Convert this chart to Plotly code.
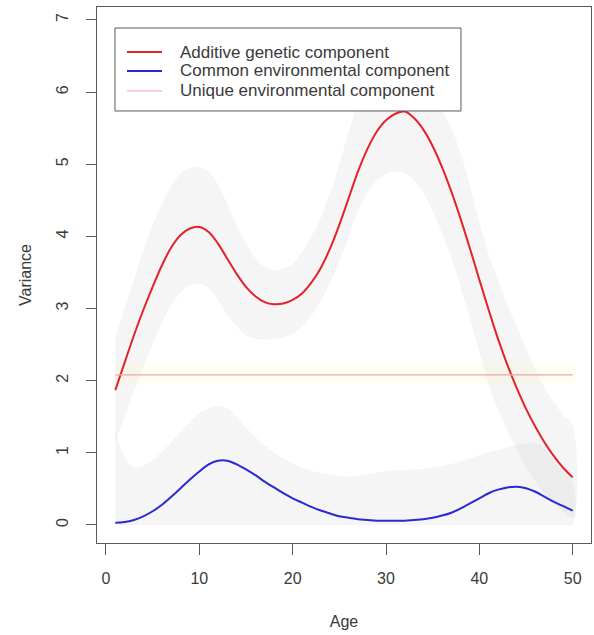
import plotly.graph_objects as go

# Age grid (years)
age = list(range(1, 51))

# Additive genetic variance and its confidence limits
additive = [1.87, 2.25, 2.63, 2.98, 3.30, 3.60, 3.85, 4.02, 4.11, 4.13,
            4.06, 3.90, 3.69, 3.48, 3.30, 3.17, 3.09, 3.06, 3.07, 3.12,
            3.21, 3.36, 3.56, 3.83, 4.16, 4.53, 4.90, 5.21, 5.45, 5.61,
            5.70, 5.73, 5.64, 5.48, 5.25, 4.96, 4.62, 4.24, 3.83, 3.40,
            2.98, 2.58, 2.22, 1.90, 1.61, 1.36, 1.14, 0.95, 0.79, 0.66]
additive_hi = [2.60, 3.00, 3.40, 3.80, 4.15, 4.45, 4.70, 4.87, 4.95, 4.96,
               4.90, 4.72, 4.45, 4.15, 3.90, 3.70, 3.58, 3.53, 3.55, 3.62,
               3.78, 4.00, 4.25, 4.60, 5.00, 5.45, 5.85, 6.15, 6.35, 6.48,
               6.55, 6.55, 6.45, 6.25, 6.00, 5.75, 5.50, 5.15, 4.70, 4.20,
               3.75, 3.40, 3.05, 2.75, 2.45, 2.15, 1.90, 1.70, 1.52, 1.38]
additive_lo = [1.15, 1.50, 1.85, 2.20, 2.50, 2.80, 3.05, 3.22, 3.32, 3.35,
               3.28, 3.12, 2.92, 2.75, 2.63, 2.58, 2.57, 2.58, 2.60, 2.65,
               2.75, 2.90, 3.10, 3.35, 3.65, 4.00, 4.35, 4.60, 4.78, 4.87,
               4.90, 4.88, 4.78, 4.60, 4.35, 4.05, 3.70, 3.30, 2.85, 2.40,
               1.95, 1.60, 1.30, 1.05, 0.80, 0.60, 0.42, 0.28, 0.18, 0.10]

# Common environmental variance and its confidence limits
common = [0.03, 0.04, 0.07, 0.12, 0.19, 0.28, 0.39, 0.51, 0.63, 0.74,
          0.84, 0.89, 0.89, 0.84, 0.77, 0.69, 0.60, 0.52, 0.44, 0.37,
          0.31, 0.25, 0.20, 0.16, 0.12, 0.10, 0.08, 0.07, 0.06, 0.06,
          0.06, 0.06, 0.07, 0.08, 0.10, 0.13, 0.17, 0.23, 0.30, 0.37,
          0.44, 0.49, 0.52, 0.53, 0.51, 0.46, 0.39, 0.32, 0.26, 0.20]
common_hi = [1.30, 0.95, 0.80, 0.82, 0.90, 1.02, 1.15, 1.30, 1.43, 1.55,
             1.62, 1.65, 1.62, 1.50, 1.35, 1.22, 1.10, 1.00, 0.92, 0.85,
             0.79, 0.75, 0.72, 0.70, 0.68, 0.67, 0.68, 0.70, 0.72, 0.75,
             0.76, 0.76, 0.77, 0.78, 0.80, 0.82, 0.85, 0.88, 0.92, 0.97,
             1.01, 1.04, 1.08, 1.11, 1.13, 1.14, 1.05, 0.90, 0.75, 0.60]
common_lo = [0.0] * 50

# Unique environmental variance (constant over age) and its limits
unique_level = 2.08
unique_hi = 2.24
unique_lo = 1.94

x_ticks = [0, 10, 20, 30, 40, 50]
y_ticks = [0, 1, 2, 3, 4, 5, 6, 7]

legend_labels = ["Additive genetic component",
                 "Common environmental component",
                 "Unique environmental component"]
legend_colors = ["#e3222a", "#2a2ad2", "#f3a3a3"]
legend_widths = [2, 2, 1.2]

FONT = "Liberation Sans, Arial, sans-serif"
TEXT = "#3a3a3a"
AXIS = "#5a5a5a"
BAND = "rgba(190,190,190,0.16)"

fig = go.Figure()


def band(lo, hi, color):
    fig.add_trace(go.Scatter(
        x=age + age[::-1], y=hi + lo[::-1], fill="toself",
        fillcolor=color, line=dict(width=0, shape="spline"), mode="lines",
        hoverinfo="skip", showlegend=False))


band(additive_lo, additive_hi, BAND)
band(common_lo, common_hi, BAND)
band([unique_lo] * len(age), [unique_hi] * len(age), "rgba(255,248,180,0.13)")

series = [additive, common, [unique_level] * len(age)]
for name, ys, col, w in zip(legend_labels, series, legend_colors, legend_widths):
    fig.add_trace(go.Scatter(
        x=age, y=ys, mode="lines", name=name, showlegend=False,
        line=dict(color=col, width=w,
                  shape="spline" if w > 1.5 else "linear")))

# Boxed key in the upper-left corner of the panel (paper coordinates)
box_x0, box_x1 = 0.0364, 0.7368
box_y0, box_y1 = 0.8060, 0.9608
key_x0, key_x1 = 0.0607, 0.1316
text_x = 0.1640
row_y = [0.9160, 0.8806, 0.8433]

fig.add_shape(type="rect", xref="paper", yref="paper",
              x0=box_x0, x1=box_x1, y0=box_y0, y1=box_y1,
              fillcolor="white", line=dict(color=AXIS, width=1), layer="above")
for label, col, w, yy in zip(legend_labels, legend_colors, legend_widths, row_y):
    fig.add_shape(type="line", xref="paper", yref="paper",
                  x0=key_x0, x1=key_x1, y0=yy, y1=yy,
                  line=dict(color=col, width=w), layer="above")
    fig.add_annotation(xref="paper", yref="paper", x=text_x, y=yy,
                       text=label, showarrow=False, xanchor="left",
                       yanchor="middle",
                       font=dict(family=FONT, size=17, color=TEXT))

fig.update_layout(
    width=594, height=635,
    margin=dict(l=97, r=3, t=7, b=92),
    paper_bgcolor="white", plot_bgcolor="white",
    font=dict(family=FONT, size=16, color=TEXT),
    showlegend=False,
    xaxis=dict(
        range=[-0.96, 51.96], tickvals=x_ticks, ticks="outside",
        ticklen=11, tickcolor=AXIS, showline=True, linecolor=AXIS,
        linewidth=1, mirror=True, showgrid=False, zeroline=False,
        ticklabelstandoff=10,
        title=dict(text="Age", standoff=29, font=dict(size=16, color=TEXT))),
    yaxis=dict(
        range=[-0.25, 7.18], tickvals=y_ticks, ticks="outside",
        ticklen=10, tickcolor=AXIS, showline=True, linecolor=AXIS,
        linewidth=1, mirror=True, showgrid=False, zeroline=False,
        tickangle=-90, ticklabelstandoff=12,
        title=dict(text="Variance", standoff=17,
                   font=dict(size=16, color=TEXT))),
)

fig.write_html("out.html")
